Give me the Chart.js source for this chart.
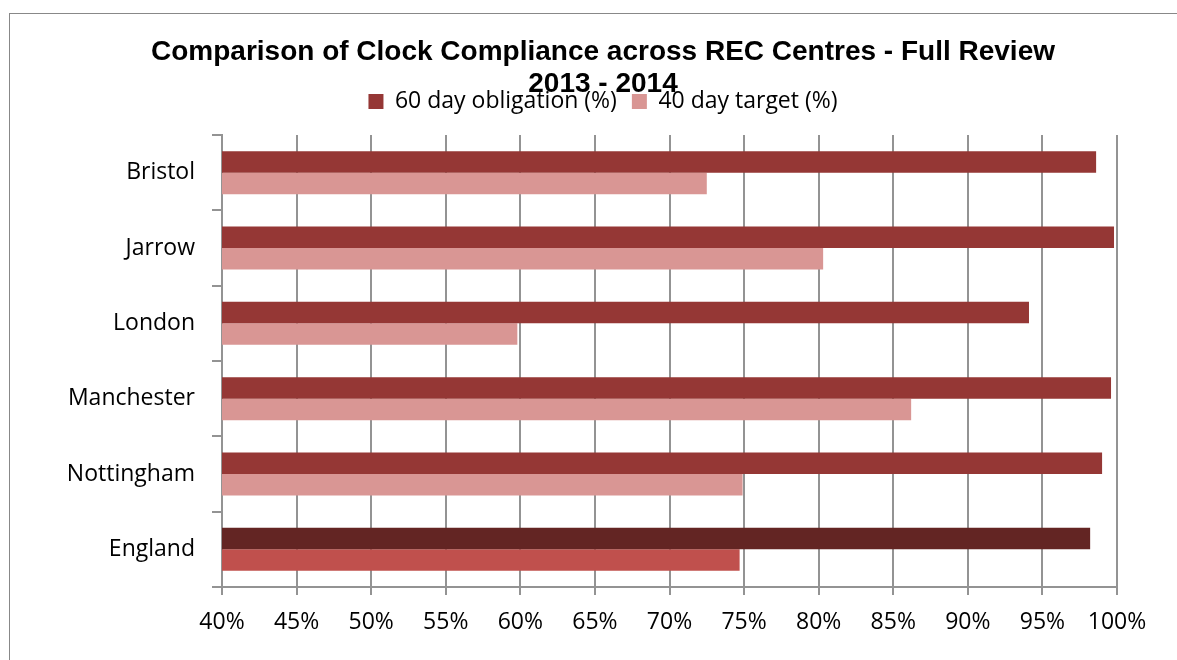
<!DOCTYPE html>
<html>
<head>
<meta charset="utf-8">
<script src="https://cdn.jsdelivr.net/npm/chart.js@4/dist/chart.umd.min.js"></script>
<style>
  html, body { margin: 0; padding: 0; background: #fff; }
  #wrap { width: 1177px; height: 660px; }
</style>
</head>
<body>
<div id="wrap"><canvas id="clock-chart"></canvas></div>
<script>
const centres = ["Bristol", "Jarrow", "London", "Manchester", "Nottingham", "England"]
const obligation60 = [98.6, 99.8, 94.1, 99.6, 99.0, 98.2]
const target40 = [72.5, 80.3, 59.8, 86.2, 74.9, 74.7]
const titleLines = ["Comparison of Clock Compliance across REC Centres - Full Review", "2013 - 2014"]

// England is the national total, so it gets the stronger shades
const shade = (normal, total) => centres.map((c) => (c === "England" ? total : normal))

const labelFont = {family: "'Open Sans', sans-serif", size: 23}
const gridGrey = "#939393"

// white background plus the outer frame
const framePlugin = {
  id: "frame",
  beforeDraw(chart) {
    const {ctx, width, height} = chart
    ctx.save()
    ctx.fillStyle = "#fff"
    ctx.fillRect(0, 0, width, height)
    ctx.strokeStyle = "#888"
    ctx.lineWidth = 1
    ctx.strokeRect(9.5, 13.5, width + 50, height + 50)
    ctx.restore()
  },
}

// leave a bit of room between the legend and the bars
const legendGapPlugin = {
  id: "legendGap",
  afterInit(chart) {
    const legend = chart.legend
    if (!legend) return
    const fit = legend.fit
    legend.fit = function () {
      fit.call(this)
      this.height += 12
    }
  },
}

new Chart(document.getElementById("clock-chart"), {
  type: "bar",
  data: {
    labels: centres,
    datasets: [
      {
        label: "60 day obligation (%)",
        data: obligation60,
        backgroundColor: shade("#953735", "#632523"),
      },
      {
        label: "40 day target (%)",
        data: target40,
        backgroundColor: shade("#D99694", "#C0504D"),
      },
    ],
  },
  options: {
    indexAxis: "y",
    responsive: true,
    maintainAspectRatio: false,
    animation: false,
    categoryPercentage: 0.57,
    barPercentage: 1,
    // the chart frame runs past the right edge, so title and legend centre further right
    layout: {padding: {left: 10, right: -19, top: 0, bottom: 0}},
    plugins: {
      tooltip: {enabled: false},
      title: {
        display: true,
        text: titleLines,
        color: "#000",
        font: {family: "'Liberation Sans', Arial, sans-serif", size: 28, weight: "bold", lineHeight: 1.157},
        padding: {top: 36, bottom: -25.8},
      },
      legend: {
        display: true,
        position: "top",
        labels: {
          color: "#000",
          font: labelFont,
          boxWidth: 15,
          boxHeight: 15,
          padding: 15,
        },
      },
    },
    scales: {
      x: {
        min: 40,
        max: 100,
        ticks: {
          stepSize: 5,
          color: "#000",
          font: labelFont,
          padding: 14,
          maxRotation: 0,
          callback: (v) => v + "%",
        },
        grid: {color: gridGrey, lineWidth: 2, tickLength: 8},
        border: {color: gridGrey, width: 2},
        afterFit: (scale) => {
          scale.height = 73
        },
      },
      y: {
        ticks: {color: "#000", font: labelFont, padding: 17},
        grid: {color: gridGrey, lineWidth: 2, drawOnChartArea: false, tickLength: 10},
        border: {color: gridGrey, width: 2},
        afterFit: (scale) => {
          scale.width = 212
        },
      },
      // empty strip to the right of the plot
      rightGap: {
        type: "linear",
        position: "right",
        ticks: {display: false},
        grid: {display: false},
        border: {display: false},
        afterFit: (scale) => {
          scale.width = 79
        },
      },
    },
  },
  plugins: [framePlugin, legendGapPlugin],
})
</script>
</body>
</html>
